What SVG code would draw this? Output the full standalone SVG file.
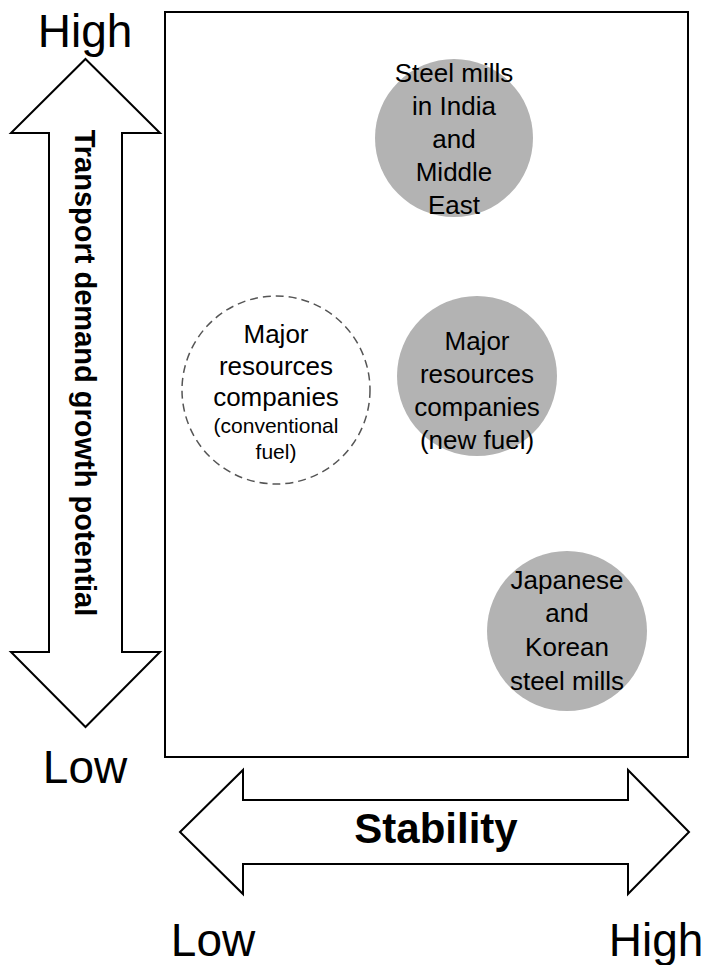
<svg xmlns="http://www.w3.org/2000/svg" width="706" height="965" viewBox="0 0 706 965">
<style>
.lbl{font-family:"Liberation Sans",Arial,sans-serif;fill:#000}
.ax{font-size:46px;text-anchor:middle}
.nt{font-size:26px;text-anchor:middle}
.sm{font-size:21px;text-anchor:middle}
.arrow{fill:#fff;stroke:#000;stroke-width:2}
.fill{fill:#b3b3b3;stroke:none}
</style>
<rect width="706" height="965" fill="#fff"/>
<g id="frame"><rect x="165" y="12" width="523" height="745" fill="#fff" stroke="#000" stroke-width="2"/></g>
<g id="connectors">
<path class="arrow" d="M85.5,59 L160,133 L122,133 L122,652 L160,652 L85.5,727 L11,652 L49,652 L49,133 L11,133 Z"/>
<path class="arrow" d="M180,832 L243,770 L243,800 L628,800 L628,770 L689,832 L628,894 L628,864 L243,864 L243,894 Z"/>
</g>
<g id="axis-labels">
<text class="lbl ax" x="85" y="47">High</text>
<text class="lbl ax" x="85" y="783">Low</text>
<text class="lbl ax" x="213" y="956">Low</text>
<text class="lbl ax" x="656" y="956">High</text>
<text class="lbl" x="0" y="0" font-size="29" font-weight="bold" text-anchor="middle" transform="translate(75,373) rotate(90)">Transport demand growth potential</text>
<text class="lbl" x="436" y="843" font-size="42" font-weight="bold" text-anchor="middle">Stability</text>
</g>
<g id="node-steel-india">
<circle class="fill" cx="454" cy="138" r="79"/>
<text class="lbl nt" x="454" y="82">Steel mills</text>
<text class="lbl nt" x="454" y="115">in India</text>
<text class="lbl nt" x="454" y="148">and</text>
<text class="lbl nt" x="454" y="181">Middle</text>
<text class="lbl nt" x="454" y="214">East</text>
</g>
<g id="node-resources-new">
<circle class="fill" cx="477" cy="376" r="80"/>
<text class="lbl nt" x="477" y="350">Major</text>
<text class="lbl nt" x="477" y="383">resources</text>
<text class="lbl nt" x="477" y="416">companies</text>
<text class="lbl nt" x="477" y="449">(new fuel)</text>
</g>
<g id="node-resources-conv">
<circle cx="276" cy="390" r="94" fill="none" stroke="#555" stroke-width="1.5" stroke-dasharray="8,5"/>
<text class="lbl nt" x="276" y="343">Major</text>
<text class="lbl nt" x="276" y="375">resources</text>
<text class="lbl nt" x="276" y="406">companies</text>
<text class="lbl sm" x="276" y="433">(conventional</text>
<text class="lbl sm" x="276" y="459">fuel)</text>
</g>
<g id="node-japan-korea">
<circle class="fill" cx="567" cy="631" r="80"/>
<text class="lbl nt" x="567" y="589">Japanese</text>
<text class="lbl nt" x="567" y="622">and</text>
<text class="lbl nt" x="567" y="656">Korean</text>
<text class="lbl nt" x="567" y="690">steel mills</text>
</g>
</svg>
